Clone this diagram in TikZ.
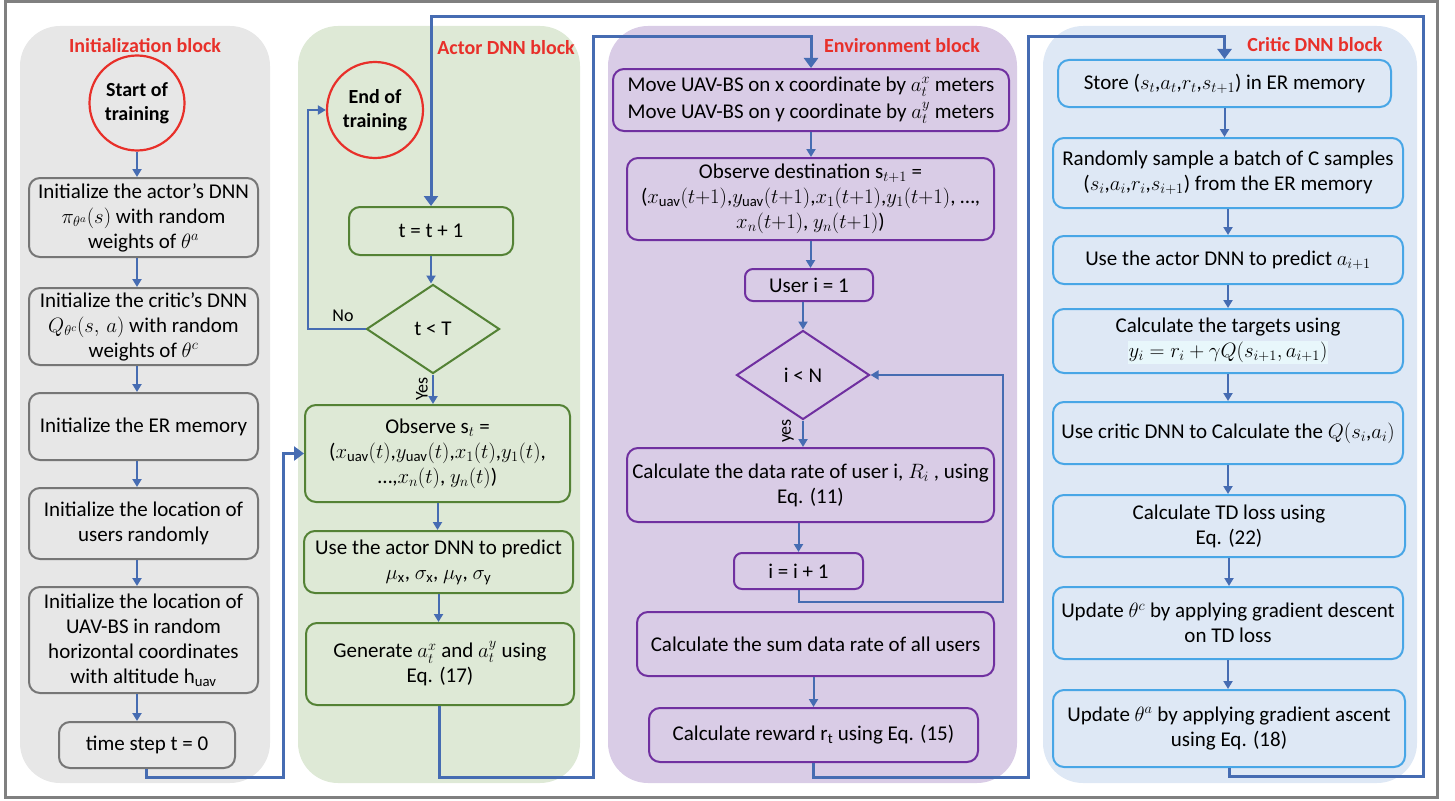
\documentclass[tikz,border=0pt]{standalone}
\usepackage{amsmath}
\usepackage{fontspec}
\setmainfont{Carlito}
\usetikzlibrary{shapes.geometric,arrows.meta}

\definecolor{framegray}{RGB}{128,128,128}
\definecolor{initbg}{RGB}{231,231,231}
\definecolor{actbg}{RGB}{222,233,214}
\definecolor{envbg}{RGB}{217,204,230}
\definecolor{crbg}{RGB}{222,232,245}
\definecolor{initdraw}{RGB}{118,118,118}
\definecolor{actdraw}{RGB}{84,130,53}
\definecolor{envdraw}{RGB}{112,48,160}
\definecolor{crdraw}{RGB}{72,166,230}
\definecolor{linkc}{RGB}{70,108,178}
\definecolor{titlered}{RGB}{232,48,42}
\definecolor{hlcyan}{RGB}{232,247,251}

\begin{document}
\begin{tikzpicture}[x=1pt,y=-1pt,
  blockbg/.style={rounded corners=40pt, draw=none},
  box/.style={draw, rounded corners=11pt, line width=2pt, align=center,
    font=\fontsize{21}{25}\selectfont, inner sep=2pt},
  wh/.style 2 args={minimum width=#1pt, minimum height=#2pt},
  ibox/.style={box, draw=initdraw},
  abox/.style={box, draw=actdraw},
  ebox/.style={box, draw=envdraw},
  cbox/.style={box, draw=crdraw},
  terminal/.style={circle, draw=titlered, line width=2.2pt, minimum size=95pt,
    inner sep=0pt, align=center, font=\bfseries\fontsize{20}{24}\selectfont},
  decision/.style={diamond, line width=2pt, inner sep=0pt,
    minimum width=133pt, minimum height=89pt, font=\fontsize{21}{24}\selectfont},
  blocktitle/.style={text=titlered, font=\bfseries\fontsize{20}{23}\selectfont},
  lbl/.style={font=\fontsize{18}{20}\selectfont, inner sep=1pt},
  arr/.style={draw=linkc, line width=2pt, -{Triangle[length=8pt,width=9pt]}},
  bigarr/.style={draw=linkc, line width=3pt, -{Triangle[length=10pt,width=14pt]}}
]
\useasboundingbox (0,0) rectangle (1455,800);

% outer frame
\draw[framegray, line width=3pt] (5,2) rectangle (1437,797);

% block backgrounds
\fill[blockbg, initbg] (20,26) rectangle (270,783);
\fill[blockbg, actbg] (298,26) rectangle (580,783);
\fill[blockbg, envbg] (608,26) rectangle (1017,783);
\fill[blockbg, crbg] (1043,26) rectangle (1417,783);

% block titles
\node[blocktitle] (tinit) at (145,46) {Initialization block};
\node[blocktitle] (tact) at (506,48) {Actor DNN block};
\node[blocktitle] (tenv) at (902,46) {Environment block};
\node[blocktitle] (tcr) at (1315,45) {Critic DNN block};

% ---------------- initialization block ----------------
\node[terminal] (start) at (137,103) {Start of\\training};
\node[ibox, wh={229}{79}] (i1) at (143.5,217.5)
  {Initialize the actor’s DNN\\$\pi_{\theta^a}(s)$ with random\\weights of $\theta^a$};
\node[ibox, wh={229}{77}] (i2) at (143.5,326.5)
  {Initialize the critic’s DNN\\$Q_{\theta^c}(s,\,a)$ with random\\weights of $\theta^c$};
\node[ibox, wh={229}{67}] (i3) at (143.5,426.5) {Initialize the ER memory};
\node[ibox, wh={229}{71}] (i4) at (143.5,523.5)
  {Initialize the location of\\users randomly};
\node[ibox, wh={229}{106}] (i5) at (143.5,640)
  {Initialize the location of\\UAV-BS in random\\horizontal coordinates\\with altitude h$_\text{uav}$};
\node[ibox, wh={176}{46}] (i6) at (147,745) {time step t = 0};

\draw[arr] (start.south) -- (start |- i1.north);
\draw[arr] (i1.south -| start) -- (i2.north -| start);
\draw[arr] (i2.south -| start) -- (i3.north -| start);
\draw[arr] (i3.south -| start) -- (i4.north -| start);
\draw[arr] (i4.south -| start) -- (i5.north -| start);
\draw[arr] (i5.south -| start) -- (i6.north -| start);

% ---------------- actor DNN block ----------------
\node[terminal, minimum size=96pt] (endc) at (375,110) {End of\\training};
\node[abox, wh={164}{48}] (a1) at (431,231) {t = t + 1};
\node[decision, draw=actdraw] (d1) at (433,329) {t < T};
\node[abox, wh={265}{97}] (a2) at (437.5,453.5)
  {Observe s$_t$ =\\($x_\text{uav}(t)$,$y_\text{uav}(t)$,$x_1(t)$,$y_1(t)$,\\\dots,$x_n(t)$, $y_n(t)$)};
\node[abox, wh={269}{62}] (a3) at (438.5,562)
  {Use the actor DNN to predict\\$\mu_\text{x}$, $\sigma_\text{x}$, $\mu_\text{y}$, $\sigma_\text{y}$};
\node[abox, wh={268}{82}] (a4) at (440,664)
  {Generate $a_t^x$ and $a_t^y$ using\\Eq. (17)};

\draw[arr] (a1.south) -- (a1.south |- d1.north);
\draw[arr] (d1.south) -- (d1.south |- a2.north);
\draw[arr] (a2.south) -- (a2.south |- a3.north);
\draw[arr] (a3.south) -- (a3.south |- a4.north);
\node[lbl, rotate=90] (yes1) at (422,389) {Yes};

\coordinate (nobend) at (308,0);
\draw[arr] (d1.west) -- (d1.west -| nobend) |- (endc.west);
\node[lbl] (no1) at (343,316) {No};

% ---------------- environment block ----------------
\node[ebox, wh={396}{62}, font=\fontsize{21}{27}\selectfont] (e1) at (811,100)
  {Move UAV-BS on x coordinate by $a_t^x$ meters\\Move UAV-BS on y coordinate by $a_t^y$ meters};
\node[ebox, wh={367}{82}] (e2) at (810.5,199)
  {Observe destination s$_{t+1}$ =\\($x_\text{uav}(t{+}1)$,$y_\text{uav}(t{+}1)$,$x_1(t{+}1)$,$y_1(t{+}1)$, \dots,\\$x_n(t{+}1)$, $y_n(t{+}1)$)};
\node[ebox, wh={128}{32}, rounded corners=8pt] (e3) at (809,285) {User i = 1};
\node[decision, draw=envdraw] (d2) at (803,375) {i < N};
\node[ebox, wh={367}{74}] (e4) at (810.5,485)
  {Calculate the data rate of user i, $R_i$ , using\\Eq. (11)};
\node[ebox, wh={129}{36}, rounded corners=8pt] (e5) at (798.5,571) {i = i + 1};
\node[ebox, wh={357}{64}] (e6) at (815.5,644) {Calculate the sum data rate of all users};
\node[ebox, wh={329}{54}] (e7) at (813.5,735) {Calculate reward r$_\text{t}$ using Eq. (15)};

\draw[arr] (e1.south) -- (e1.south |- e2.north);
\draw[arr] (e2.south) -- (e2.south |- e3.north);
\draw[arr] (d2.north |- e3.south) -- (d2.north);
\draw[arr] (d2.south) -- (d2.south |- e4.north);
\draw[arr] (e5.north |- e4.south) -- (e5.north);
\draw[arr] (e7.north |- e6.south) -- (e7.north);
\node[lbl, rotate=90] (yes2) at (788,431) {yes};

\coordinate (loopc) at (1003,602);
\draw[arr] (e5.south) -- (e5.south |- loopc) -- (loopc) |- (d2.east);

% ---------------- critic DNN block ----------------
\node[cbox, wh={333}{47}] (c1) at (1224.5,83.5)
  {Store ($s_t$,$a_t$,$r_t$,$s_{t+1}$) in ER memory};
\node[cbox, wh={350}{70}] (c2) at (1228,173)
  {Randomly sample a batch of C samples\\($s_i$,$a_i$,$r_i$,$s_{i+1}$) from the ER memory};
\node[cbox, wh={350}{48}] (c3) at (1228,260) {Use the actor DNN to predict $a_{i+1}$};
\node[cbox, wh={350}{64}] (c4) at (1228,341)
  {Calculate the targets using\\{\setlength\fboxsep{1pt}\colorbox{hlcyan}{$y_i = r_i + \gamma Q(s_{i+1}, a_{i+1})$}}};
\node[cbox, wh={350}{62}] (c5) at (1228,433) {Use critic DNN to Calculate the $Q(s_i$,$a_i)$};
\node[cbox, wh={352}{62}] (c6) at (1229,526) {Calculate TD loss using\\Eq. (22)};
\node[cbox, wh={350}{72}] (c7) at (1228,623)
  {Update $\theta^c$ by applying gradient descent\\on TD loss};
\node[cbox, wh={352}{77}] (c8) at (1229,728.5)
  {Update $\theta^a$ by applying gradient ascent\\using Eq. (18)};

\draw[arr] (c1.south) -- (c1.south |- c2.north);
\draw[arr] (c2.south) -- (c2.south |- c3.north);
\draw[arr] (c3.south) -- (c3.south |- c4.north);
\draw[arr] (c4.south) -- (c4.south |- c5.north);
\draw[arr] (c5.south) -- (c5.south |- c6.north);
\draw[arr] (c6.south) -- (c6.south |- c7.north);
\draw[arr] (c7.south) -- (c7.south |- c8.north);

% ---------------- links between blocks ----------------
\coordinate (k1) at (146,777);
\coordinate (k2) at (283,0);
\draw[bigarr] (i6.south -| k1) -- (k1) -| (k2 |- a2.west) -- (a2.west);

\coordinate (k3) at (439,777);
\coordinate (k4) at (593,37);
\draw[bigarr] (a4.south -| k3) -- (k3) -| (k4) -| (e1.north);

\coordinate (k5) at (813,777);
\coordinate (k6) at (1028,37);
\draw[bigarr] (e7.south -| k5) -- (k5) -| (k6) -| (c1.north);

\coordinate (k7) at (1229,776);
\coordinate (k8) at (1423,17);
\draw[bigarr] (c8.south -| k7) -- (k7) -| (k8) -| (a1.north);

\end{tikzpicture}
\end{document}
